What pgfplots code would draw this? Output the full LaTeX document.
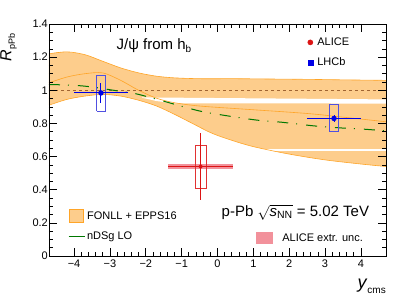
\documentclass[border=0pt]{standalone}
\usepackage{pgfplots}
\pgfplotsset{compat=1.18}
\usepackage{amsmath}
\usepackage{fontspec}
\setmainfont{Liberation Sans}
\definecolor{bandc}{RGB}{253,205,140}
\definecolor{bandline}{RGB}{255,165,40}
\definecolor{onec}{RGB}{160,100,50}
\definecolor{ndsg}{RGB}{0,120,0}
\definecolor{alicec}{RGB}{220,20,20}
\definecolor{aliceb}{RGB}{225,50,50}
\definecolor{extrc}{RGB}{242,145,155}
\definecolor{lhcbc}{RGB}{0,0,230}
\definecolor{lhcbb}{RGB}{80,80,225}
\begin{document}
\begin{tikzpicture}
\useasboundingbox (0,0) rectangle (407pt,295pt);
\pgfplotsset{
  common/.style={
    scale only axis, width=337pt, height=232pt,
    at={(49pt,39pt)}, anchor=south west,
    xmin=-4.7, xmax=4.7, ymin=0, ymax=1.4,
  }
}
\begin{axis}[common,
  xtick={-4,-3,-2,-1,0,1,2,3,4},
  xticklabels={−4,−3,−2,−1,0,1,2,3,4},
  ytick={0,0.2,0.4,0.6,0.8,1,1.2,1.4},
  yticklabels={0,0.2,0.4,0.6,0.8,1,1.2,1.4},
  minor x tick num=4, minor y tick num=3,
  tick align=inside, xtick pos=both, ytick pos=both,
  xticklabel pos=lower, yticklabel pos=left,
  major tick length=8pt, minor tick length=4pt,
  every tick/.style={black, line width=0.7pt},
  axis line style={line width=0.9pt},
  axis on top,
  ticklabel style={font=\fontsize{11}{12}\selectfont},
  yticklabel style={inner sep=1pt},
  xlabel={{\fontsize{18}{19}\selectfont\textit{y}}\raisebox{-4.5pt}{\fontsize{10}{11}\selectfont cms}},
  xlabel style={at={(axis description cs:1,-0.1)}, anchor=north east, inner sep=0pt},
  ylabel={{\fontsize{16}{17}\selectfont\textit{R}}\raisebox{-3.5pt}{\fontsize{9}{10}\selectfont pPb}},
  ylabel style={at={(axis description cs:-0.095,0.96)}, anchor=south east, inner sep=0pt},
  legend style={draw=none, fill=none, at={(rel axis cs:0.76,0.95)}, anchor=north west,
    font=\fontsize{11}{12}\selectfont, row sep=7pt, inner sep=0pt},
  legend cell align=left,
]
% FONLL + EPPS16 band (upper edge, then lower edge reversed)
\addplot[fill=bandc, draw=none, forget plot] coordinates {
(-4.7,1.22) (-4.45,1.23) (-4.2,1.232) (-3.95,1.226) (-3.7,1.215) (-3.45,1.197) (-3.2,1.175) (-2.95,1.155) (-2.7,1.135) (-2.45,1.118) (-2.2,1.105) (-1.95,1.094) (-1.7,1.085) (-1.45,1.079) (-1.2,1.075) (-0.5,1.07) (0.5,1.07) (1.5,1.068) (2.5,1.066) (3.5,1.063) (4.7,1.06)
(4.7,0.54) (4.35,0.547) (4.0,0.555) (3.5,0.567) (3.0,0.58) (2.5,0.596) (2.0,0.615) (1.5,0.636) (1.0,0.66) (0.65,0.68) (0.3,0.705) (0.05,0.724) (-0.2,0.745) (-0.45,0.772) (-0.7,0.8) (-0.95,0.828) (-1.2,0.855) (-1.45,0.882) (-1.7,0.905) (-1.95,0.924) (-2.2,0.94) (-2.45,0.954) (-2.7,0.965) (-2.95,0.972) (-3.2,0.975) (-3.45,0.972) (-3.7,0.965) (-3.95,0.956) (-4.2,0.945) (-4.45,0.93) (-4.7,0.91)};
% white rendering stripes inside the band
\addplot[fill=white, draw=none, forget plot] coordinates {(-2.1,0.957) (4.7,0.945) (4.7,0.92) (-1.2,0.921) (-1.7,0.935) (-2.1,0.955)};
\addplot[fill=white, draw=none, forget plot] coordinates {(1.0,0.632) (4.7,0.632) (4.7,0.648) (1.0,0.648)};
% band edges
\addplot[draw=bandline, line width=0.6pt, smooth, forget plot] coordinates {
(-4.7,1.22) (-4.2,1.232) (-3.7,1.215) (-3.2,1.175) (-2.7,1.135) (-2.2,1.105) (-1.7,1.085) (-1.2,1.075) (-0.5,1.07) (0.5,1.07) (1.5,1.068) (2.5,1.066) (3.5,1.063) (4.7,1.06)};
\addplot[draw=bandline, line width=0.6pt, smooth, forget plot] coordinates {
(-4.7,0.91) (-4.2,0.945) (-3.7,0.965) (-3.2,0.975) (-2.7,0.965) (-2.2,0.94) (-1.7,0.905) (-1.2,0.855) (-0.7,0.8) (-0.2,0.745) (0.3,0.705) (1.0,0.66) (2.0,0.615) (3.0,0.58) (4.0,0.555) (4.7,0.54)};
% central FONLL
\addplot[draw=bandline, line width=0.6pt, smooth, forget plot] coordinates {
(-4.7,1.045) (-4.2,1.08) (-3.7,1.1) (-3.2,1.105) (-2.7,1.06) (-2.2,1.0) (-1.7,0.952) (-1.2,0.925) (-0.5,0.905) (0.9,0.884) (2.5,0.86) (3.5,0.838) (4.7,0.81)};
% unity line
\addplot[onec, dashed, line width=0.6pt, forget plot] coordinates {(-4.7,1) (4.7,1)};
% nDSg LO
\addplot[ndsg, line width=1pt, smooth, dash pattern=on 11pt off 8pt on 1pt off 9pt, forget plot] coordinates {
(-4.7,1.035) (-4.0,1.03) (-3.5,1.02) (-2.9,1.0) (-2.3,0.98) (-1.85,0.955) (-1.35,0.925) (-0.5,0.875) (0.3,0.845) (1.1,0.82) (1.8,0.807) (2.7,0.785) (3.5,0.772) (4.1,0.765) (4.7,0.755)};
% ALICE extrapolation uncertainty
\addplot[fill=extrc, draw=none, forget plot] coordinates {(-1.37,0.524) (0.43,0.524) (0.43,0.556) (-1.37,0.556)};
% ALICE syst box
\addplot[draw=aliceb, line width=0.8pt, forget plot] coordinates {(-0.62,0.41) (-0.32,0.41) (-0.32,0.67) (-0.62,0.67) (-0.62,0.41)};
% LHCb syst boxes
\addplot[draw=lhcbb, line width=0.8pt, forget plot] coordinates {(-3.37,0.873) (-3.13,0.873) (-3.13,1.088) (-3.37,1.088) (-3.37,0.873)};
\addplot[draw=lhcbb, line width=0.8pt, forget plot] coordinates {(3.13,0.749) (3.37,0.749) (3.37,0.914) (3.13,0.914) (3.13,0.749)};
% ALICE point
\addplot[alicec, line width=1pt, only marks, mark=*, mark size=1.8pt, forget plot,
  error bars/.cd, x dir=both, x explicit, y dir=both, y explicit, error mark=none,
  error bar style={line width=1pt, alicec}]
  coordinates {(-0.47,0.54) +- (0.9,0.2)};
% LHCb points
\addplot[lhcbc, line width=1pt, only marks, mark=*, mark size=2.2pt, forget plot,
  error bars/.cd, x dir=both, x explicit, y dir=both, y explicit, error mark=none,
  error bar style={line width=1pt, lhcbc}]
  coordinates {(-3.25,0.984) +- (0.75,0.06) (3.25,0.83) +- (0.75,0.02)};
\addlegendimage{legend image code/.code={\path[draw=none] (0pt,0pt) -- (10pt,0pt); \fill[alicec] (5pt,0pt) circle (2.6pt);}}
\addlegendentry{ALICE}
\addlegendimage{legend image code/.code={\path[draw=none] (0pt,0pt) -- (10pt,0pt); \fill[lhcbc] (2.5pt,-2.5pt) rectangle (7.5pt,2.5pt);}}
\addlegendentry{LHCb}
\node[anchor=base west, font=\fontsize{15}{16}\selectfont] at (axis cs:-2.91,1.247) {J/ψ from h\raisebox{-3pt}{\fontsize{10}{11}\selectfont b}};
\node[anchor=base west, font=\fontsize{15}{16}\selectfont] at (axis cs:0.02,0.24) {p-Pb $\sqrt{\text{\textit{s}}_{\text{NN}}}$ = 5.02 TeV};
\end{axis}
\begin{axis}[common, hide axis,
  legend style={draw=none, fill=none, at={(rel axis cs:0.056,0.203)}, anchor=north west,
    font=\fontsize{11}{12}\selectfont, row sep=7pt, inner sep=0pt},
  legend cell align=left]
\addplot[draw=none, forget plot] coordinates {(0,0.5) (1,0.5)};
\addlegendimage{legend image code/.code={\draw[fill=bandc, draw=bandline, line width=0.7pt] (0pt,-6.5pt) rectangle (14pt,6.5pt);}}
\addlegendentry{FONLL + EPPS16}
\addlegendimage{legend image code/.code={\draw[ndsg, line width=1pt] (-1pt,0pt) -- (15pt,0pt);}}
\addlegendentry{nDSg LO}
\end{axis}
\begin{axis}[common, hide axis,
  legend style={draw=none, fill=none, at={(rel axis cs:0.614,0.107)}, anchor=north west,
    font=\fontsize{11}{12}\selectfont, inner sep=0pt},
  legend cell align=left]
\addplot[draw=none, forget plot] coordinates {(0,0.5) (1,0.5)};
\addlegendimage{legend image code/.code={\fill[extrc] (0pt,-5.5pt) rectangle (16pt,5.5pt); \path[draw=none] (0pt,0pt) -- (24pt,0pt);}}
\addlegendentry{ALICE extr. unc.}
\end{axis}
\end{tikzpicture}
\end{document}
